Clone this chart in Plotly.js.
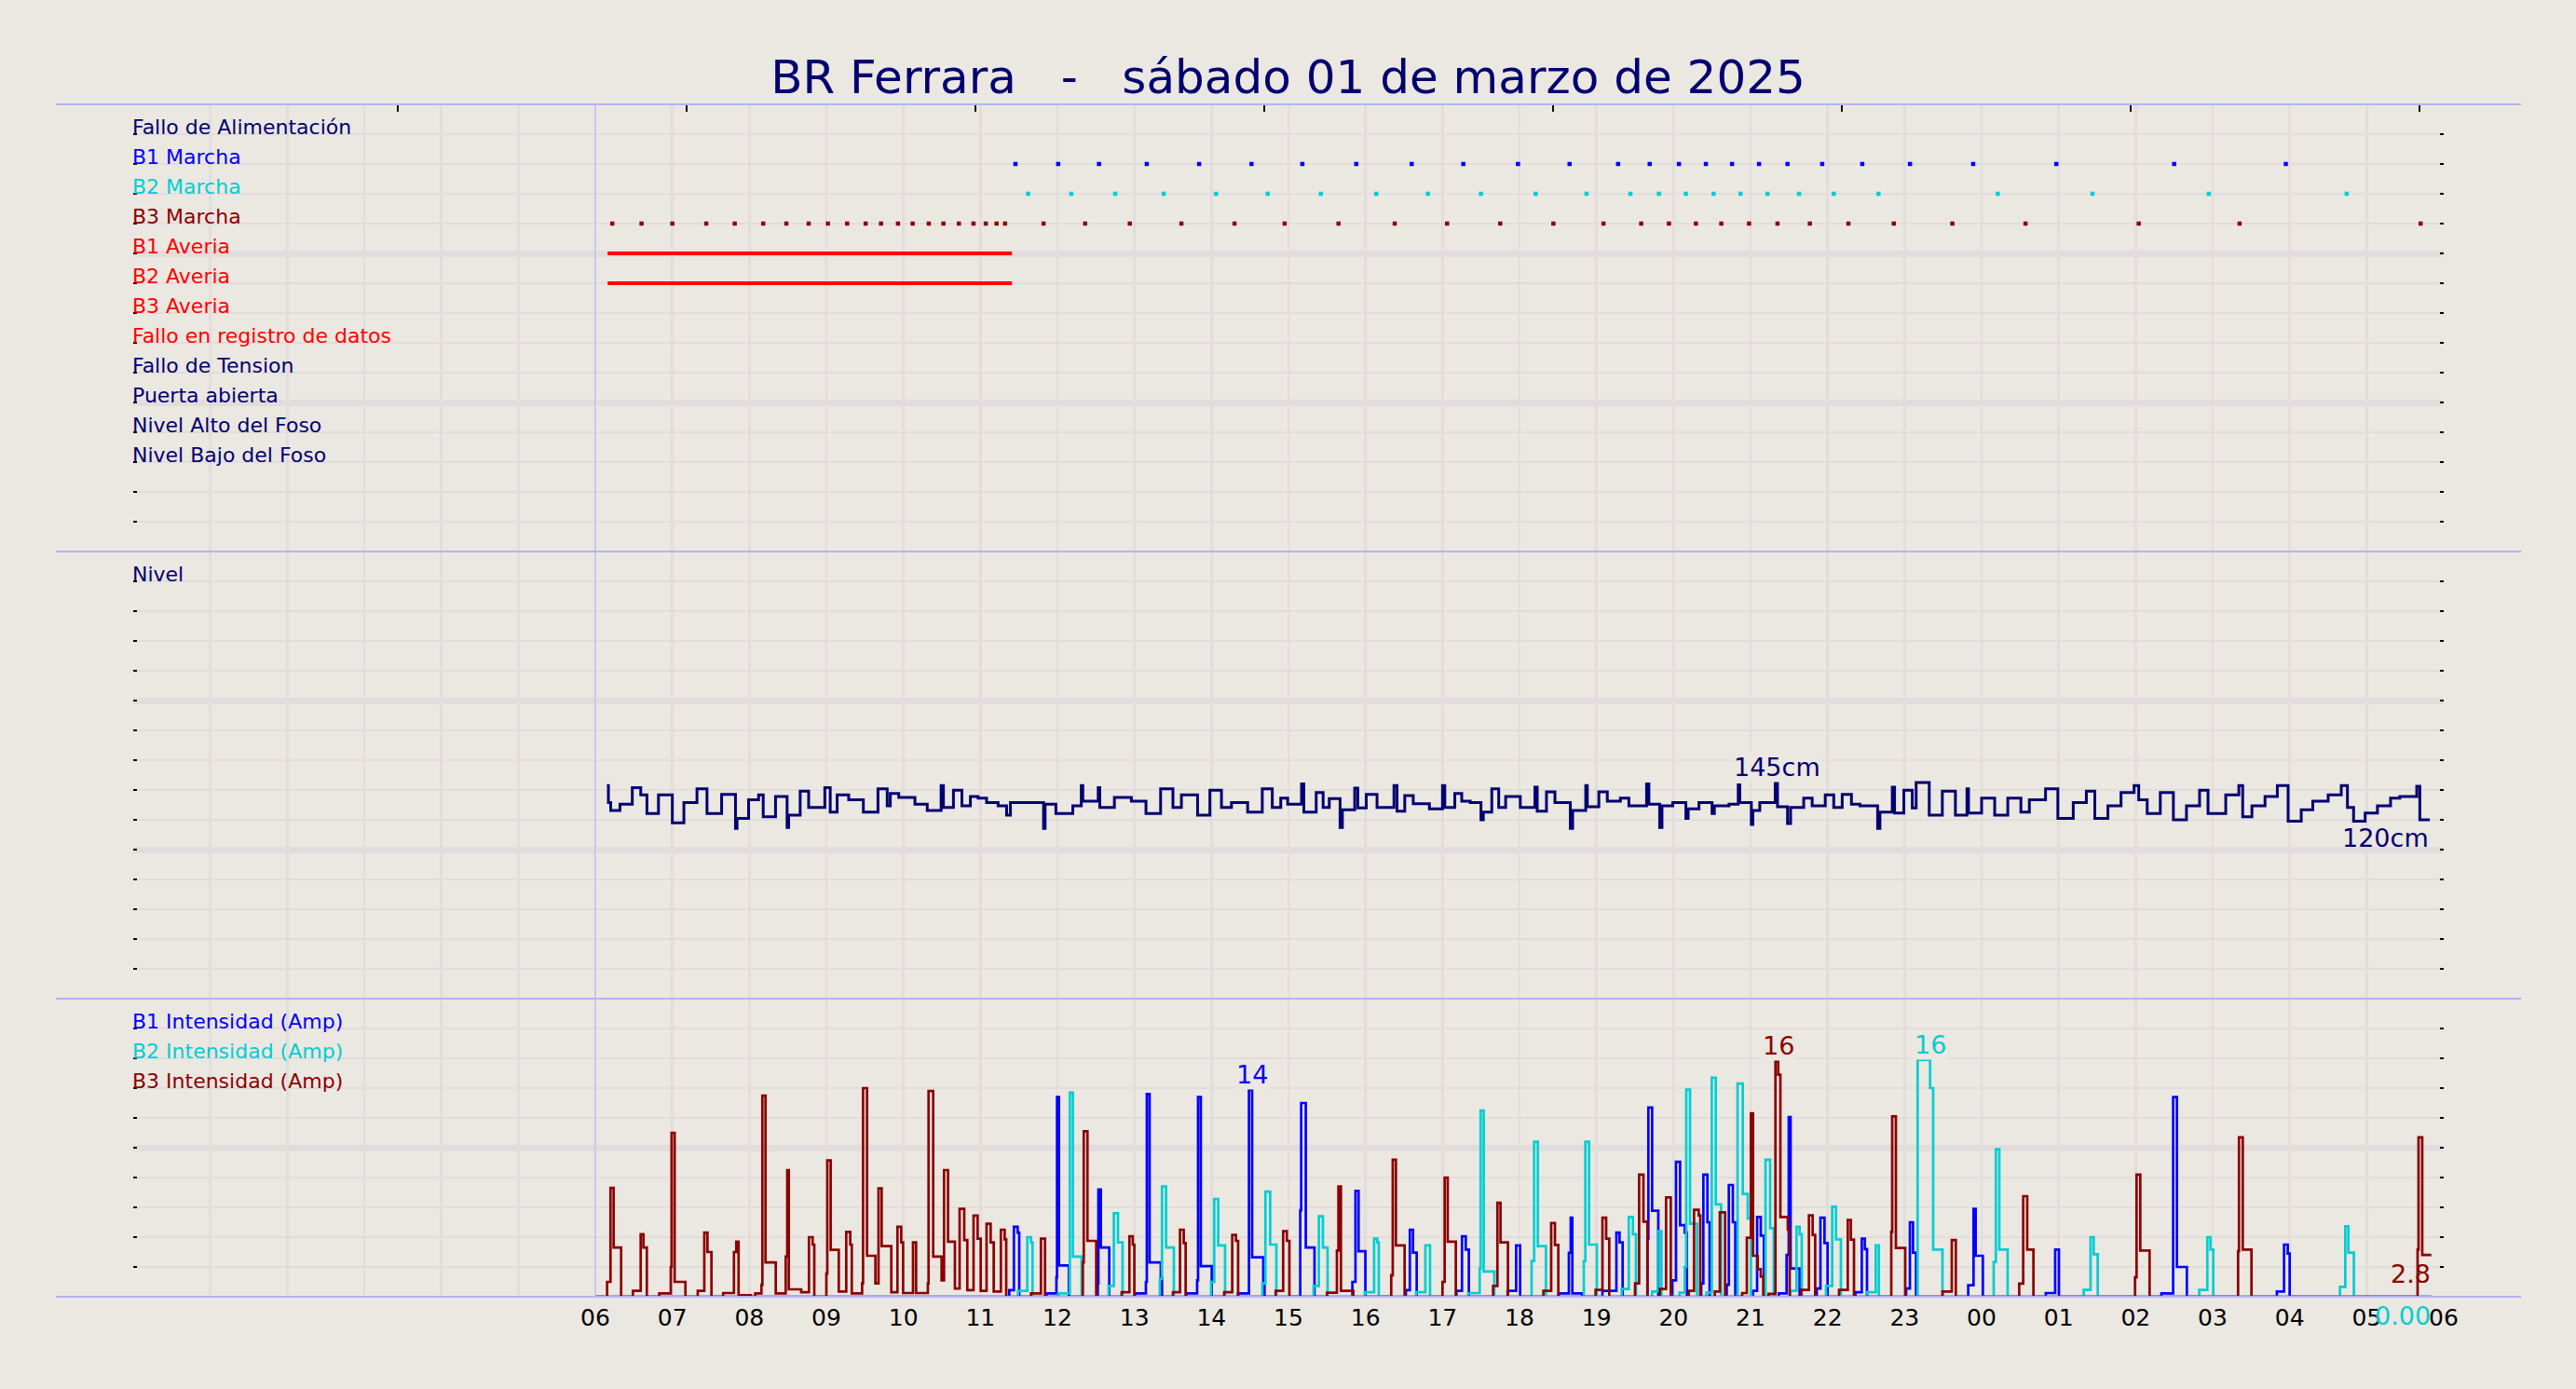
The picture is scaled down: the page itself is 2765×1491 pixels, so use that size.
<!DOCTYPE html>
<html>
<head>
<meta charset="utf-8">
<script src="https://cdn.plot.ly/plotly-3.0.1.min.js"></script>
<style>
html,body{margin:0;padding:0;background:#EBE7E1;}
#chart{width:2765px;height:1491px;}
</style>
</head>
<body>
<div id="chart"></div>
<script>
// ---------------- data ----------------
const titleText = "BR Ferrara\u00a0\u00a0\u00a0-\u00a0\u00a0\u00a0sábado 01 de marzo de 2025";

// hours since 00:00 of the day (axis 0..30)
const hourTickVals = [0,1,2,3,4,5,6,7,8,9,10,11,12,13,14,15,16,17,18,19,20,21,22,23,24,25,26,27,28,29,30];
const hourTickText = ["","","","","","","06","07","08","09","10","11","12","13","14","15","16","17","18","19","20","21","22","23","00","01","02","03","04","05","06"];
const topTickVals = [3.435, 7.185, 10.935, 14.685, 18.435, 22.185, 25.935, 29.685];

// event panel rows
const eventRows   = [14, 13, 12, 11, 10, 9, 8, 7, 6, 5, 4, 3];
const eventLabels = ["Fallo de Alimentación","B1 Marcha","B2 Marcha","B3 Marcha","B1 Averia","B2 Averia","B3 Averia",
                     "Fallo en registro de datos","Fallo de Tension","Puerta abierta","Nivel Alto del Foso","Nivel Bajo del Foso"];
const eventColors = ["#000070","#0000FF","#00CED1","#8B0000","#FF0000","#FF0000","#FF0000",
                     "#FF0000","#000070","#000070","#000070","#000070"];

const b1MarchaT = [11.455,12.01,12.54,13.16,13.84,14.52,15.18,15.88,16.60,17.27,17.98,18.65,19.28,19.69,20.07,20.42,20.76,21.11,21.48,21.93,22.45,23.07,23.89,24.97,26.50,27.95];
const b2MarchaT = [11.62,12.18,12.75,13.38,14.06,14.73,15.42,16.14,16.81,17.50,18.21,18.87,19.44,19.81,20.16,20.52,20.87,21.22,21.63,22.08,22.66,24.21,25.44,26.95,28.74];
const b3MarchaT = [6.22,6.60,7.00,7.44,7.81,8.18,8.48,8.77,9.02,9.27,9.51,9.71,9.93,10.12,10.33,10.52,10.72,10.91,11.07,11.21,11.32,11.82,12.36,12.94,13.61,14.30,14.95,15.65,16.38,17.06,17.75,18.44,19.09,19.58,19.94,20.29,20.62,20.98,21.35,21.77,22.27,22.86,23.62,24.57,26.04,27.35,29.70];
const b1AveriaT = [6.16, 11.41];
const b2AveriaT = [6.16, 11.41];

// Nivel (cm), step starts
const nivelT = [6.15,6.17,6.20,6.32,6.48,6.59,6.67,6.82,7.00,7.15,7.32,7.45,7.64,7.82,7.84,7.99,8.12,8.18,8.34,8.49,8.51,8.66,8.77,8.98,9.05,9.14,9.29,9.48,9.67,9.79,9.83,9.94,10.15,10.31,10.49,10.52,10.65,10.76,10.87,10.97,11.08,11.23,11.34,11.39,11.82,11.84,11.98,12.20,12.31,12.33,12.53,12.55,12.74,12.96,13.15,13.34,13.50,13.61,13.82,13.98,14.13,14.26,14.47,14.66,14.79,14.90,14.99,15.17,15.20,15.36,15.45,15.53,15.67,15.70,15.86,15.90,16.01,16.15,16.37,16.41,16.51,16.62,16.83,17.00,17.03,17.16,17.25,17.36,17.50,17.53,17.64,17.73,17.82,18.01,18.20,18.23,18.35,18.46,18.66,18.69,18.86,18.88,19.03,19.14,19.31,19.42,19.65,19.68,19.82,19.85,19.99,20.16,20.19,20.33,20.50,20.53,20.72,20.84,20.86,21.01,21.03,21.12,21.32,21.35,21.48,21.52,21.69,21.80,21.97,22.08,22.19,22.31,22.42,22.65,22.68,22.84,22.87,22.99,23.10,23.15,23.32,23.49,23.66,23.81,23.83,24.00,24.17,24.34,24.51,24.62,24.83,24.99,25.19,25.36,25.47,25.64,25.81,25.98,26.04,26.15,26.32,26.49,26.66,26.83,26.94,27.17,27.34,27.39,27.51,27.68,27.84,27.98,28.15,28.30,28.50,28.67,28.75,28.83,28.98,29.14,29.31,29.43,29.65,29.69,29.82];
const nivelV = [143,131.5,126.3,130.4,141.5,136.7,124.2,136.7,118,131.5,140.8,124.2,137.1,114.2,121,133.5,136.7,122.1,135.6,114.8,123.1,139.2,128.3,141.5,125.2,136.7,133.5,125.2,140.8,129.4,137.7,135,130.4,126.3,142.9,128.3,139.8,129.4,135.6,134.6,131.5,129.4,123.1,131.5,114.2,130.4,124.2,129.4,142.9,132.5,141.5,128.3,135,132.5,124.2,140.8,128.3,136.7,123.1,139.8,128.3,131.5,125.2,140.8,128.3,134.6,130.4,144,125.2,138.3,128.3,134.2,114.8,126.7,141.3,127.9,137.1,128.3,142.9,125.8,136.3,130.8,127.3,142.9,128.3,137.7,132.5,131.5,120,125.2,140.8,128.3,135.6,128.3,141.9,125.8,138.8,131.5,114.2,126.3,142.9,128.8,138.8,132.5,134.6,129.4,144,130.4,114.8,129.4,131.5,121,127.3,131.5,124.2,129.4,130.4,143.5,131.5,116.9,126.3,131.5,145,128.8,117.5,128.3,134.6,129.4,136.7,128.3,137.1,130.4,129.4,114.2,125.2,141.9,124.6,139.8,127.9,145,123.1,139.2,123.1,140.8,124.6,134.6,123.1,134.6,125.2,133.5,140.8,121,131.5,139.2,121,129.4,138.3,142.9,133.5,124.2,138.3,120,129.4,139.8,124.2,136.7,142.9,122.1,129.4,135.6,142.9,119,126.7,132.5,136.7,142.9,128.3,119,124.6,129.4,134.6,135.6,142.5,120,120];

// Intensidades (A), step starts
const b1T = [6.0,11.375,11.435,11.484,11.504,11.859,11.987,11.995,12.02,12.149,12.524,12.532,12.564,12.673,13.008,13.149,13.161,13.197,13.342,13.358,13.673,13.814,13.826,13.862,14.004,14.346,14.487,14.528,14.673,14.689,15.153,15.165,15.225,15.338,15.83,15.87,15.91,15.999,16.524,16.576,16.617,16.665,17.181,17.253,17.302,17.342,17.846,17.956,18.008,18.512,18.641,18.665,18.686,18.815,19.077,19.258,19.299,19.339,19.661,19.673,19.722,19.802,19.984,20.032,20.085,20.145,20.173,20.359,20.387,20.44,20.468,20.69,20.718,20.77,20.802,21.032,21.085,21.133,21.173,21.367,21.468,21.496,21.52,21.637,21.859,21.907,21.96,22.0,22.363,22.444,22.484,22.512,23.02,23.069,23.109,23.149,23.826,23.895,23.923,24.016,24.834,24.955,25.004,26.334,26.487,26.536,26.665,27.834,27.927,27.975,28.0,29.84];
const b1V = [0,0.45,4.7,4.3,0,0.23,1.3,13.4,2.1,0,0.9,7.2,3.3,0,0.23,1.0,13.6,2.3,1.3,0,0.23,1.1,13.4,2.06,0,0.23,13.9,2.65,0.9,0,5.8,13.0,3.3,0,1.0,7.1,3.06,0,0.44,4.5,2.96,0,0.4,4.05,3.17,0,0.4,3.45,0,0.23,2.95,5.3,0.23,0,0.4,4.3,3.65,0,3.9,12.7,5.77,0,1.1,9.06,4.8,4.3,0,0.9,8.2,5.0,0,0.8,7.5,5.0,0,0.4,5.35,4.1,0,0.23,2.8,12.06,1.9,0,0.56,5.3,3.6,0,0.3,3.9,3.2,0,0.56,5.0,2.96,0,0.77,5.9,2.75,0,0.25,3.17,0,0.23,13.4,2.0,0,0.35,3.5,2.9,0,0];

const b2T = [6.0,11.488,11.609,11.657,11.677,12.012,12.161,12.201,12.314,12.665,12.733,12.786,12.846,13.33,13.358,13.411,13.512,13.995,14.036,14.088,14.177,14.661,14.701,14.762,14.843,15.326,15.395,15.447,15.508,15.991,16.112,16.153,16.173,16.657,16.778,16.838,17.334,17.483,17.495,17.535,17.673,18.157,18.19,18.238,18.343,18.835,18.855,18.903,19.004,19.327,19.419,19.472,19.512,19.722,19.794,19.843,20.077,20.145,20.165,20.214,20.306,20.427,20.496,20.548,20.617,20.831,20.899,20.964,21.004,21.194,21.254,21.302,21.516,21.597,21.637,21.665,21.98,22.06,22.109,22.173,22.504,22.625,22.665,23.169,23.331,23.371,23.492,24.157,24.185,24.23,24.338,25.326,25.415,25.455,25.508,26.826,26.931,26.972,27.008,28.653,28.722,28.762,28.834,29.84];
const b2V = [0,0.4,4.0,3.65,0,0.23,13.7,2.7,0,0.73,5.6,3.65,0,1.2,7.4,3.3,0,1.0,6.56,3.44,0,0.9,7.06,3.5,0,0.73,5.4,3.3,0,0.3,3.9,3.65,0,0.3,3.44,0,0.25,1.9,12.5,1.7,0,2.4,10.4,3.4,0,2.4,10.4,3.5,0,0.52,5.35,4.2,0,0.35,4.4,0,0.27,2.0,13.9,4.9,0,0.27,14.7,6.2,0,14.3,6.9,5.25,0,9.2,4.6,0,0.4,4.7,4.2,0,0.73,6.04,3.85,0,0.3,3.44,0,15.9,14.0,3.17,0,2.33,9.9,3.17,0,0.46,4.0,2.85,0,0.46,4.0,3.17,0,0.67,4.73,2.96,0,0];

const b3T = [6.0,6.153,6.197,6.238,6.335,6.488,6.589,6.625,6.669,6.83,6.98,6.99,7.03,7.17,7.33,7.415,7.456,7.508,7.66,7.80,7.83,7.86,8.02,8.076,8.157,8.169,8.21,8.343,8.472,8.492,8.512,8.673,8.774,8.822,8.843,9.0,9.012,9.056,9.161,9.258,9.31,9.33,9.464,9.476,9.528,9.637,9.677,9.718,9.843,9.923,9.972,9.996,10.125,10.165,10.318,10.327,10.387,10.496,10.528,10.58,10.669,10.73,10.79,10.83,10.911,10.964,11.004,11.08,11.133,11.173,11.266,11.315,11.335,11.657,11.786,11.839,12.33,12.342,12.39,12.504,12.834,12.935,12.979,12.999,13.5,13.592,13.64,13.665,14.165,14.27,14.318,14.346,14.834,14.931,14.979,15.012,15.5,15.629,15.649,15.681,15.842,16.334,16.354,16.395,16.508,17.0,17.028,17.068,17.173,17.657,17.713,17.753,17.85,18.31,18.411,18.46,18.504,18.988,19.077,19.125,19.165,19.5,19.553,19.609,19.661,19.823,19.903,19.964,20.198,20.266,20.327,20.347,20.536,20.601,20.669,20.891,20.952,21.004,21.032,21.093,21.133,21.165,21.234,21.323,21.359,21.387,21.484,21.508,21.657,21.758,21.806,21.839,22.149,22.262,22.302,22.343,22.827,22.839,22.887,23.008,23.492,23.613,23.665,24.488,24.54,24.592,24.673,25.992,26.012,26.06,26.181,27.33,27.342,27.391,27.504,29.661,29.673,29.721,29.84];
const b3V = [0,1.0,7.3,3.3,0,0.4,4.2,3.3,0,0.23,2.0,11.0,1.0,0,0.4,4.3,3.0,0,0.25,3.0,3.7,0.1,0,0.23,0.8,13.5,2.3,0.23,2.7,8.5,0.5,0.3,4.0,3.5,0,1.56,9.15,3.15,0.35,4.35,3.5,0.23,0.9,14.0,2.75,0.9,7.27,3.4,0.3,4.7,3.65,0.25,3.65,0.25,0.9,13.8,2.7,1.1,8.5,3.7,0.55,5.9,3.8,0.45,5.45,3.9,0.4,4.9,3.65,0.35,4.5,3.85,0,0.23,3.9,0,2.3,11.1,3.75,0,0.3,4.05,3.5,0,0.3,4.5,3.6,0,0.3,4.15,3.75,0,0.4,4.4,3.75,0,0.27,3.1,7.4,0.4,0,1.44,9.2,3.45,0,1.0,8.0,3.7,0,0.73,6.3,3.65,0,0.4,4.94,3.48,0,0.46,5.3,3.9,0,0.9,8.2,5.04,0,0.52,6.67,0,0.4,5.83,5.46,0,0.35,5.67,0,0.25,3.96,12.3,2.75,1.85,1.35,0,0.19,15.8,14.9,5.35,4.5,0,0.46,5.46,4.15,0,0.46,5.15,3.83,0,4.35,12.1,3.27,0,0.35,3.8,0,0.88,6.75,3.17,0,1.3,8.2,3.1,0,3.06,10.7,3.17,0,3.17,10.7,2.8,2.8];

const ampSeriesNames = ["B1 Intensidad (Amp)","B2 Intensidad (Amp)","B3 Intensidad (Amp)"];
const ampRows = [18, 16, 14];
const ampShowEndLabel = [false, true, true];
const nivelLabel = "Nivel";
const nivelLabelRow = 280;

// ---------------- styles ----------------
const FONT = "DejaVu Sans";
const BG = "#EBE7E1";
const GRID = "#E2DDDC";
const NAVY = "#000070";
const C1 = "#0000FF", C2 = "#00CED1", C3 = "#8B0000";
const BORDER = "#B4B4F2";

const traces = [];
function rowsOf(arr, r){ return arr.map(() => r); }

traces.push({x:b1MarchaT, y:rowsOf(b1MarchaT,13), mode:'markers', type:'scatter', marker:{symbol:'square', size:4.5, color:C1}, xaxis:'x', yaxis:'y'});
traces.push({x:b2MarchaT, y:rowsOf(b2MarchaT,12), mode:'markers', type:'scatter', marker:{symbol:'square', size:4.5, color:C2}, xaxis:'x', yaxis:'y'});
traces.push({x:b3MarchaT, y:rowsOf(b3MarchaT,11), mode:'markers', type:'scatter', marker:{symbol:'square', size:4.5, color:C3}, xaxis:'x', yaxis:'y'});
traces.push({x:b1AveriaT, y:rowsOf(b1AveriaT,10), mode:'lines', type:'scatter', line:{color:'#FF0000', width:4}, xaxis:'x', yaxis:'y'});
traces.push({x:b2AveriaT, y:rowsOf(b2AveriaT,9), mode:'lines', type:'scatter', line:{color:'#FF0000', width:4}, xaxis:'x', yaxis:'y'});
traces.push({x:[null], y:[null], mode:'markers', type:'scatter', xaxis:'x4', yaxis:'y'});

traces.push({x:nivelT, y:nivelV, mode:'lines', type:'scatter', line:{color:NAVY, width:3, shape:'hv'}, xaxis:'x2', yaxis:'y2'});

const ampT = [b1T, b2T, b3T], ampV = [b1V, b2V, b3V], ampC = [C1, C2, C3];
for (let k=0;k<3;k++){
  traces.push({x:ampT[k], y:ampV[k], mode:'lines', type:'scatter', line:{color:ampC[k], width:2.7, shape:'hv'}, xaxis:'x3', yaxis:'y3'});
}

const ann = [];
eventLabels.forEach((t,i)=>{
  ann.push({xref:'x', yref:'y', x:0, y:eventRows[i], text:t, showarrow:false, xanchor:'left', yanchor:'bottom', yshift:-6, xshift:-2, borderpad:0,
            font:{family:FONT, size:22, color:eventColors[i]}});
});
ann.push({xref:'x2', yref:'y2', x:0, y:nivelLabelRow, text:nivelLabel, showarrow:false, xanchor:'left', yanchor:'bottom', yshift:-6, xshift:-2, borderpad:0,
          font:{family:FONT, size:22, color:NAVY}});
ampSeriesNames.forEach((t,k)=>{
  ann.push({xref:'x3', yref:'y3', x:0, y:ampRows[k], text:t, showarrow:false, xanchor:'left', yanchor:'bottom', yshift:-6, xshift:-2, borderpad:0,
            font:{family:FONT, size:22, color:ampC[k]}});
});

function maxInfo(t, v){
  let im = 0; for (let i=1;i<v.length;i++) if (v[i] > v[im]) im = i;
  const xe = im < t.length-1 ? t[im+1] : t[im];
  return {x:xe, v:v[im]};
}
// max labels
for (let k=0;k<3;k++){
  const m = maxInfo(ampT[k], ampV[k]);
  ann.push({xref:'x3', yref:'y3', x:m.x, y:m.v, text:String(Math.round(m.v)), showarrow:false, xanchor:'center', yanchor:'bottom',
            bgcolor:BG, borderpad:0, font:{family:FONT, size:27, color:ampC[k]}});
}
const nm = maxInfo(nivelT, nivelV);
ann.push({xref:'x2', yref:'y2', x:nm.x, y:nm.v, text:Math.round(nm.v)+"cm", showarrow:false, xanchor:'center', yanchor:'bottom',
          bgcolor:BG, borderpad:0, font:{family:FONT, size:27, color:NAVY}});
// end labels
for (let k=0;k<3;k++){
  if (!ampShowEndLabel[k]) continue;
  const n = ampT[k].length-1, v = ampV[k][n];
  ann.push({xref:'x3', yref:'y3', x:ampT[k][n], y:v, text:(v===0 ? v.toFixed(2) : v.toFixed(1)), showarrow:false, xanchor:'right', yanchor:'top',
            yshift:-4, borderpad:0, font:{family:FONT, size:27, color:ampC[k]}});
}
{
  const n = nivelT.length-1;
  ann.push({xref:'x2', yref:'y2', x:nivelT[n], y:nivelV[n], text:Math.round(nivelV[n])+"cm", showarrow:false, xanchor:'right', yanchor:'top',
            yshift:-3, borderpad:0, font:{family:FONT, size:27, color:NAVY}});
}

function xax(anchor, extra){
  return Object.assign({anchor:anchor, range:[0,30], tickmode:'array', tickvals:hourTickVals, ticktext:hourTickVals.map(()=>""),
    showgrid:true, gridcolor:GRID, gridwidth:2.6, zeroline:false, showline:false, ticks:'', showticklabels:false, fixedrange:true}, extra||{});
}
function yax(domain, range, major, minor){
  return {domain:domain, range:range, dtick:major, tick0:0, showgrid:true, gridcolor:GRID, gridwidth:7,
    minor:{dtick:minor, showgrid:true, gridcolor:GRID, gridwidth:2.6, ticks:'inside', ticklen:4, tickwidth:1.5, tickcolor:'#000'},
    ticks:'inside', ticklen:4, tickwidth:1.5, tickcolor:'#000', mirror:'ticks',
    showticklabels:false, zeroline:false, showline:false, fixedrange:true};
}

const layout = {
  width:2765, height:1491,
  margin:{l:143, r:142, t:112, b:99, pad:0},
  paper_bgcolor:BG, plot_bgcolor:BG,
  showlegend:false, hovermode:false,
  title:{text:titleText, font:{family:FONT, size:50, color:NAVY}, x:0.5, xanchor:'center', y:0.945, yanchor:'middle'},
  xaxis: xax('y'),
  xaxis2: xax('y2'),
  xaxis3: xax('y3', {ticktext:hourTickText, showticklabels:true, ticklabelstandoff:5, tickfont:{family:FONT, size:25, color:'#000'}}),
  xaxis4: {overlaying:'x', anchor:'y', side:'top', range:[0,30], tickmode:'array', tickvals:topTickVals, ticks:'inside', ticklen:8,
           tickwidth:1.3, tickcolor:'#111', showgrid:false, zeroline:false, showline:false, showticklabels:false, fixedrange:true},
  yaxis: yax([0.625,1], [0,15], 5, 1),
  yaxis2: yax([0.25,0.625], [0,300], 100, 20),
  yaxis3: yax([0,0.25], [0,20], 10, 2),
  annotations: ann,
  shapes: [
    {type:'line', xref:'x', yref:'paper', x0:6, x1:6, y0:0, y1:1, line:{color:'#C4C4F6', width:1.6}},
    {type:'line', xref:'paper', yref:'paper', x0:-0.0335, x1:1.0335, y0:1, y1:1, line:{color:BORDER, width:2}},
    {type:'line', xref:'paper', yref:'paper', x0:-0.0335, x1:1.0335, y0:0.625, y1:0.625, line:{color:BORDER, width:2}},
    {type:'line', xref:'paper', yref:'paper', x0:-0.0335, x1:1.0335, y0:0.25, y1:0.25, line:{color:BORDER, width:2}},
    {type:'line', xref:'paper', yref:'paper', x0:-0.0335, x1:1.0335, y0:0, y1:0, line:{color:BORDER, width:2}}
  ]
};

Plotly.newPlot('chart', traces, layout, {staticPlot:true, displayModeBar:false});
</script>
</body>
</html>
